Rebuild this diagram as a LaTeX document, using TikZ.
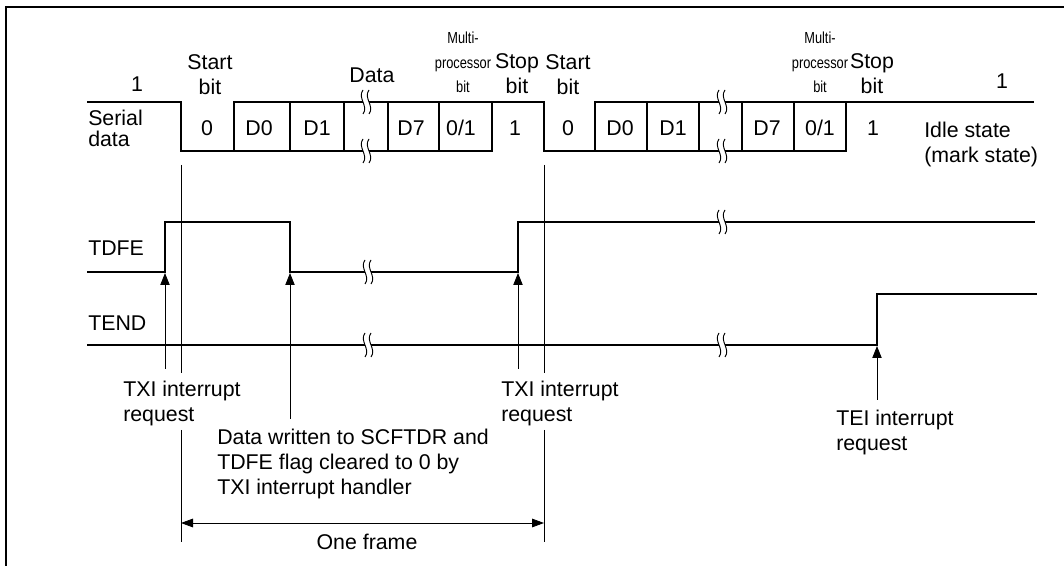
\documentclass[tikz,border=0pt]{standalone}
\usepackage{fontspec}
\setmainfont{Liberation Sans}
\usepackage{graphicx}
\usetikzlibrary{arrows.meta}
\newcommand{\fs}{\fontsize{16}{18.75}\selectfont}
\newcommand{\fsn}{\fontsize{12}{18.4}\selectfont}
\newcommand{\nar}[1]{\scalebox{0.8}[1]{#1}}
\tikzset{
  sig/.style={line width=1.3pt, line join=miter},
  thn/.style={line width=0.6pt},
  lbl/.style={font=\fs, inner sep=0pt},
  mlbl/.style={font=\fs, inner sep=0pt, align=center, anchor=north},
  nlbl/.style={font=\fsn, inner sep=0pt, align=center, anchor=north},
  llbl/.style={font=\fs, inner sep=0pt, align=left, anchor=north west},
  arr/.style={-{Triangle[length=9pt,width=7pt]}, line width=0.6pt},
  dim/.style={{Triangle[length=9pt,width=6.5pt]}-{Triangle[length=9pt,width=6.5pt]}, line width=0.6pt},
  brk/.pic={
    \fill[white] (-3,-6) rectangle (3,6);
    \foreach \d in {-3,3}
      \draw[line width=0.7pt] (\d,-12) .. controls (\d-6,-4) and (\d+6,4) .. (\d,12);
  },
}
\begin{document}
\begin{tikzpicture}[x=0.75pt, y=-0.75pt]
  \useasboundingbox (0,0) rectangle (1064,566);
  \draw[line width=1.8pt] (6,566) -- (6,7) -- (1064,7);

  % serial data
  \draw[sig] (87,102) -- (181,102) -- (181,151) -- (492,151) -- (492,102);
  \draw[sig] (234,151) -- (234,102) -- (544,102) -- (544,151) -- (846,151) -- (846,102);
  \draw[sig] (595,151) -- (595,102) -- (1034,102);
  \foreach \x in {290,344,388,439,647,699,742,794}
    \draw[sig] (\x,102) -- (\x,151);

  % TDFE, TEND
  \draw[sig] (87,272) -| (165,222) -| (290,272) -| (518,222) -- (1035,222);
  \draw[sig] (87,345) -| (877,294) -- (1037,294);

  \foreach \x/\y in {366/102,366/151,722/102,722/151,368/272,722/222,368/345,722/345}
    \pic at (\x,\y) {brk};

  % frame lines
  \foreach \x in {181,544} {
    \draw[thn] (\x,165) -- (\x,373);
    \draw[thn] (\x,430) -- (\x,542);
  }

  \node[lbl, anchor=base] (one1) at (137,92) {1};
  \node[mlbl] (start1) at (210,54) {Start\\bit};
  \node[lbl, anchor=base] (data) at (372,83) {Data};
  \node[nlbl] (mp1) at (463,32) {\nar{Multi-}\\\nar{processor}\\\nar{bit}};
  \node[mlbl] (stop1) at (517,53) {Stop\\bit};
  \node[mlbl] (start2) at (568,54) {Start\\bit};
  \node[nlbl] (mp2) at (820,32) {\nar{Multi-}\\\nar{processor}\\\nar{bit}};
  \node[mlbl] (stop2) at (872,53) {Stop\\bit};
  \node[lbl, anchor=base] (one2) at (1002,89) {1};

  \foreach \x/\t/\n in {207/0/b1, 259/D0/b2, 317/D1/b3, 411/D7/b4, 461/0\slash 1/b5, 515/1/b6,
                        568/0/c1, 620/D0/c2, 673/D1/c3, 767/D7/c4, 820/0\slash 1/c5, 873/1/c6}
    \node[lbl, anchor=base] (\n) at (\x,136) {\t};
  \node[llbl] (idle) at (924,122) {Idle state\\(mark state)};

  \node[llbl, font=\fontsize{16}{15.75}\selectfont] (serial) at (88,110) {Serial\\data};
  \node[lbl, anchor=base west] (tdfe) at (88,256) {TDFE};
  \node[lbl, anchor=base west] (tend) at (88,331) {TEND};

  \node[llbl] (txi1) at (123,381) {TXI interrupt\\request};
  \node[llbl] (txi2) at (501,381) {TXI interrupt\\request};
  \node[llbl] (tei) at (836,410) {TEI interrupt\\request};
  \node[llbl] (wr) at (217,429) {Data written to SCFTDR and\\TDFE flag cleared to 0 by\\TXI interrupt handler};
  \node[lbl, anchor=base] (frame) at (367,549) {One frame};

  \coordinate (a1) at (165,369); \coordinate (t1) at (165,273);
  \coordinate (a2) at (290,419); \coordinate (t2) at (290,273);
  \coordinate (a3) at (518,369); \coordinate (t3) at (518,273);
  \coordinate (a4) at (877,400); \coordinate (t4) at (877,346);
  \draw[arr] (a1) -- (t1);
  \draw[arr] (a2) -- (t2);
  \draw[arr] (a3) -- (t3);
  \draw[arr] (a4) -- (t4);

  \coordinate (fl) at (181,523); \coordinate (fr) at (544,523);
  \draw[dim] (fl) -- (fr);
\end{tikzpicture}
\end{document}
